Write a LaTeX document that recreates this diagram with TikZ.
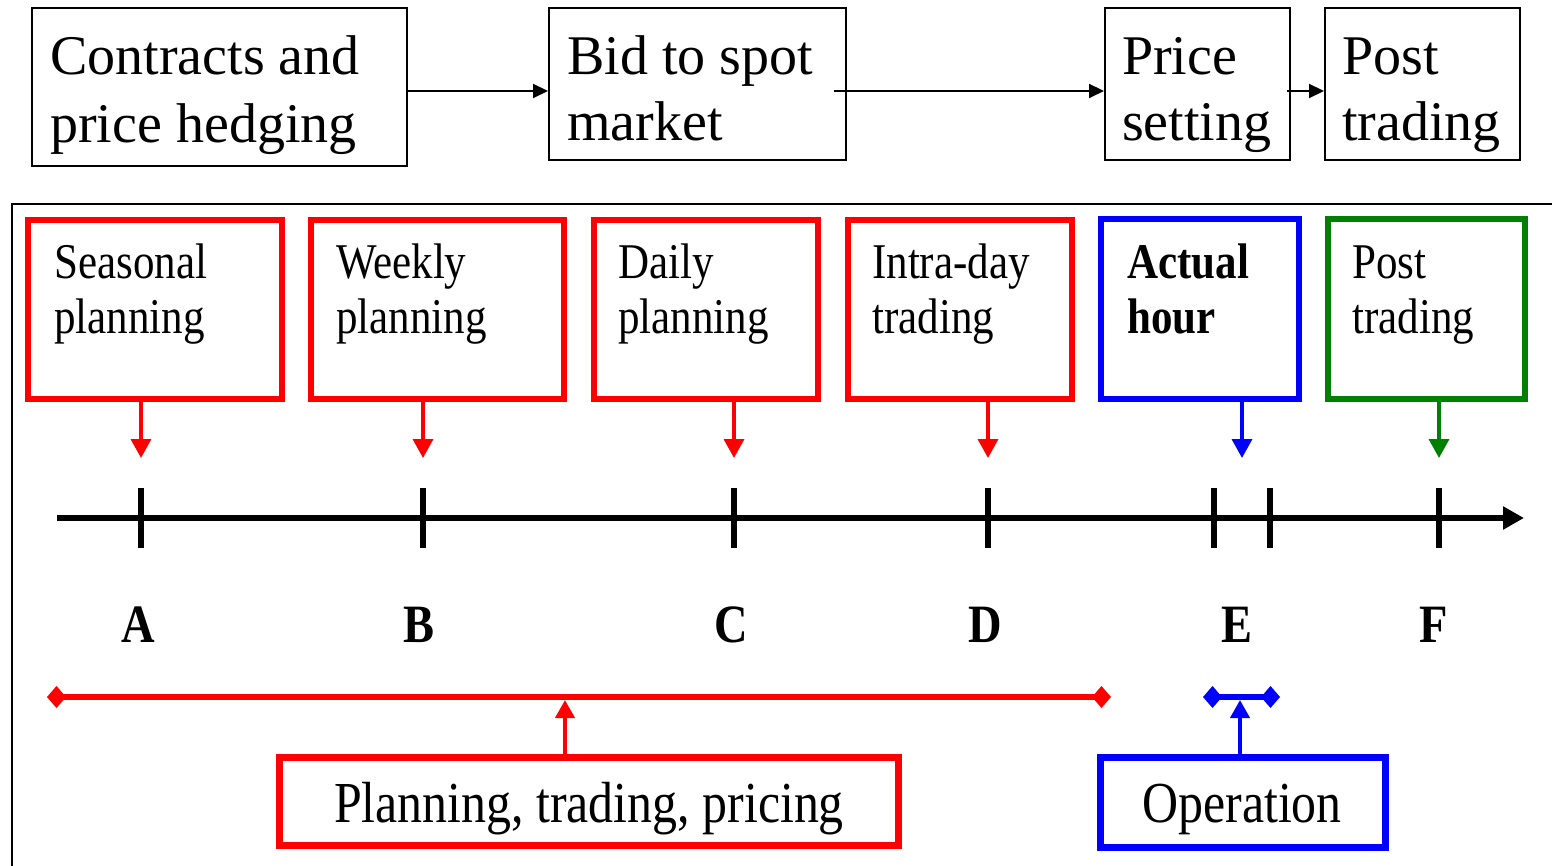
\documentclass[tikz,border=0pt]{standalone}
\usepackage{fontspec}
\setmainfont{Liberation Serif}
\newfontfamily\lowserif[FakeStretch=0.86]{Liberation Serif}
\usetikzlibrary{arrows.meta}
\definecolor{pgreen}{RGB}{0,128,0}
% two-line text whose reference point is the baseline of the first line
\newcommand\stacktext[3]{\parbox[t]{700pt}{\raggedright\fontsize{#1}{#2}\selectfont #3}}

\begin{document}
\begin{tikzpicture}[x=1pt,y=-1pt,
  topbox/.style={draw=black,line width=2pt,inner sep=0pt,fill=none},
  phasebox/.style={draw=#1,line width=6pt,inner sep=0pt},
  groupbox/.style={draw=#1,line width=7pt,inner sep=0pt},
  txt/.style={inner sep=0pt,anchor=base west},
  toparrow/.style={line width=2pt,-{Triangle[length=15pt,width=14pt]}},
  downarrow/.style={draw=#1,line width=3.5pt,-{Triangle[length=19pt,width=20pt]}},
  uparrow/.style={draw=#1,line width=4pt,-{Triangle[length=18pt,width=19pt]}},
  span/.style={draw=#1,line width=6pt,{Diamond[length=19pt,width=22pt]}-{Diamond[length=19pt,width=22pt]}},
  tick/.style={line width=6pt},
  letter/.style={inner sep=0pt,anchor=base,font=\lowserif\bfseries\fontsize{54}{60}\selectfont}]

\useasboundingbox (0,0) rectangle (1552,866);

% ---------- process chain ----------
\node[topbox,minimum width=375pt,minimum height=158pt] (contracts) at (219.5,87) {};
\node[topbox,minimum width=297pt,minimum height=152pt] (bid) at (697.5,84) {};
\node[topbox,minimum width=185pt,minimum height=152pt] (price) at (1197.5,84) {};
\node[topbox,minimum width=195pt,minimum height=152pt] (post) at (1422.5,84) {};

\node[txt] (contractsT) at (50,75) {\stacktext{56}{68}{Contracts and\\price hedging}};
\node[txt] (bidT) at (567,75) {\stacktext{56}{66}{Bid to spot\\market}};
\node[txt] (priceT) at (1122,75) {\stacktext{56}{66}{Price\\setting}};
\node[txt] (postT) at (1342,75) {\stacktext{56}{66}{Post\\trading}};

\draw[toparrow] (contracts.east |- 0,91) -- (bid.west |- 0,91);
\draw[toparrow] ([xshift=-13pt]bid.east |- 0,91) -- (price.west |- 0,91);
\draw[toparrow] ([xshift=-4pt]price.east |- 0,91) -- (post.west |- 0,91);

% ---------- timeline panel ----------
\draw[line width=2pt] (1552,204) -- (12,204) -- (12,866);

\node[phasebox=red,minimum width=254pt,minimum height=179pt] (seasonal) at (155,309.5) {};
\node[phasebox=red,minimum width=253pt,minimum height=179pt] (weekly) at (437.5,309.5) {};
\node[phasebox=red,minimum width=224pt,minimum height=179pt] (daily) at (706,309.5) {};
\node[phasebox=red,minimum width=224pt,minimum height=179pt] (intraday) at (960,309.5) {};
\node[phasebox=blue,minimum width=198pt,minimum height=179pt] (actual) at (1200,309) {};
\node[phasebox=pgreen,minimum width=197pt,minimum height=179pt] (posttr) at (1426,309) {};

\node[txt] (seasonalT) at (54,279) {\lowserif\stacktext{50}{55}{Seasonal\\planning}};
\node[txt] (weeklyT) at (336,279) {\lowserif\stacktext{50}{55}{Weekly\\planning}};
\node[txt] (dailyT) at (618,279) {\lowserif\stacktext{50}{55}{Daily\\planning}};
\node[txt] (intradayT) at (872,279) {\lowserif\stacktext{50}{55}{Intra-day\\trading}};
\node[txt] (actualT) at (1127,279) {\lowserif\bfseries\stacktext{50}{55}{Actual\\hour}};
\node[txt] (posttrT) at (1352,279) {\lowserif\stacktext{50}{55}{Post\\trading}};

% time axis and its marks
\coordinate (axisStart) at (57,518);
\coordinate (axisEnd) at (1524,518);
\draw[line width=6.5pt,-{Triangle[length=21pt,width=22pt]}] (axisStart) -- (axisEnd);

\coordinate (mA) at (141,518);
\coordinate (mB) at (423,518);
\coordinate (mC) at (734,518);
\coordinate (mD) at (988,518);
\coordinate (mE1) at (1214,518);
\coordinate (mE) at (1242,518);
\coordinate (mE2) at (1270,518);
\coordinate (mF) at (1439,518);
\foreach \m in {mA,mB,mC,mD,mE1,mE2,mF}
  \draw[tick] ([yshift=30pt]\m) -- ([yshift=-30pt]\m);

\draw[downarrow=red] (seasonal.south -| mA) -- ([yshift=60pt]mA);
\draw[downarrow=red] (weekly.south -| mB) -- ([yshift=60pt]mB);
\draw[downarrow=red] (daily.south -| mC) -- ([yshift=60pt]mC);
\draw[downarrow=red] (intraday.south -| mD) -- ([yshift=60pt]mD);
\draw[downarrow=blue] (actual.south -| mE) -- ([yshift=60pt]mE);
\draw[downarrow=pgreen] (posttr.south -| mF) -- ([yshift=60pt]mF);

\node[letter] (lA) at (138,642) {A};
\node[letter] (lB) at (419,642) {B};
\node[letter] (lC) at (731,642) {C};
\node[letter] (lD) at (985,642) {D};
\node[letter] (lE) at (1237,642) {E};
\node[letter] (lF) at (1434,642) {F};

% grouping spans
\coordinate (redL) at (47,697);
\coordinate (redR) at (1111,697);
\coordinate (redMid) at (565,700);
\coordinate (blueL) at (1203,697);
\coordinate (blueR) at (1280,697);
\coordinate (blueMid) at (1240,700);
\draw[span=red] (redL) -- (redR);
\draw[span=blue] (blueL) -- (blueR);

\node[groupbox=red,minimum width=619pt,minimum height=88pt] (planning) at (588.5,801) {};
\node[groupbox=blue,minimum width=285pt,minimum height=90pt] (operation) at (1242.5,802) {};
\node[inner sep=0pt,anchor=base,font=\lowserif\fontsize{58}{60}\selectfont] (planningT) at (589,822) {Planning, trading, pricing};
\node[inner sep=0pt,anchor=base,font=\lowserif\fontsize{58}{60}\selectfont] (operationT) at (1242,822) {Operation};

\draw[uparrow=red] (planning.north -| redMid) -- (redMid);
\draw[uparrow=blue] (operation.north -| blueMid) -- (blueMid);
\end{tikzpicture}
\end{document}
